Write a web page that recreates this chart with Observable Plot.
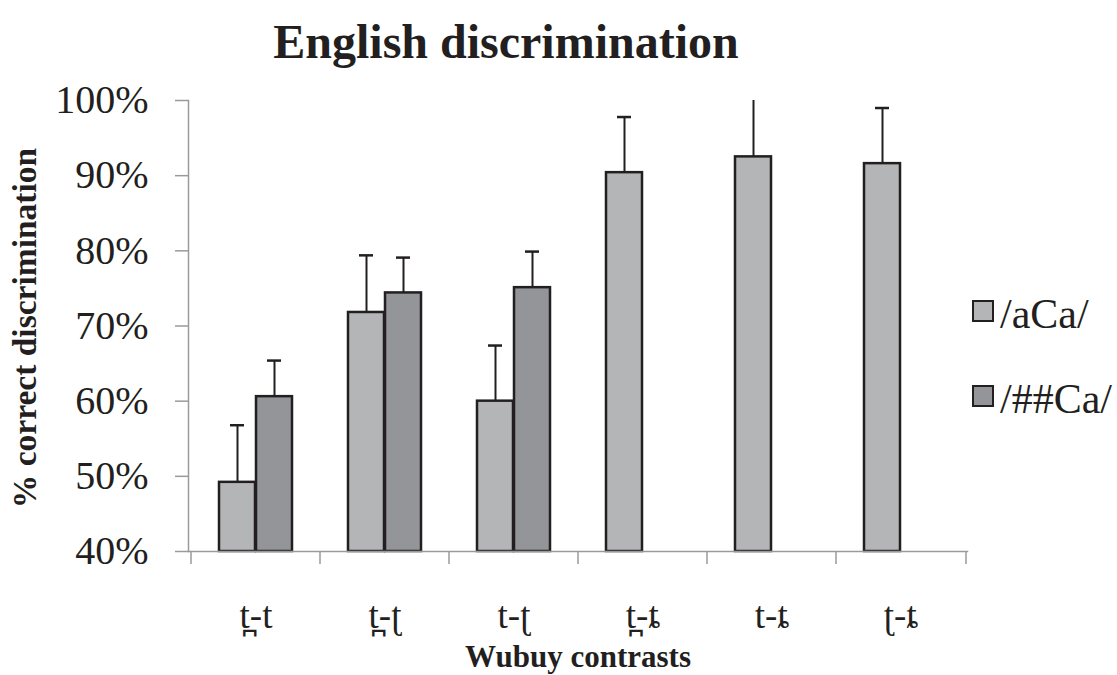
<!DOCTYPE html>
<html>
<head>
<meta charset="utf-8">
<script src="https://cdn.jsdelivr.net/npm/d3@7"></script>
<script src="https://cdn.jsdelivr.net/npm/@observablehq/plot@0.6"></script>
<style>
  html, body { margin: 0; padding: 0; background: #fff; }
  #wrap { position: relative; width: 1117px; height: 675px; font-family: "Liberation Serif", "DejaVu Serif", serif; }
  .leg { position: absolute; font-size: 42px; line-height: 42px; color: #231f20; white-space: nowrap; }
  .sw { position: absolute; width: 18px; height: 18px; border: 2px solid #231f20; }
</style>
</head>
<body>
<div id="wrap"></div>
<script>
const categories = ["t\u032A-t", "t\u032A-\u0288", "t-\u0288", "t\u032A-\u0236", "t-\u0236", "\u0288-\u0236"];
const seriesNames = ["/aCa/", "/##Ca/"];
const aCaMean = [49.2, 71.8, 60.0, 90.4, 92.5, 91.6];
const aCaUpper = [56.8, 79.4, 67.4, 97.8, 100.8, 99.0];
const hashCaMean = [60.6, 74.4, 75.1, null, null, null];
const hashCaUpper = [65.4, 79.1, 79.9, null, null, null];
const yTicks = [40, 50, 60, 70, 80, 90, 100];
const seriesColors = ["#b4b5b7", "#939598"];

const rowsA = categories.map((c, i) => ({cat: c, v: aCaMean[i], hi: aCaUpper[i]}));
const rowsB = categories.map((c, i) => ({cat: c, v: hashCaMean[i], hi: hashCaUpper[i]})).filter(d => d.v != null);

const ink = "#231f20";
const axisGrey = "#9a9a9a";
const serif = "Liberation Serif, DejaVu Serif, serif";

const chart = Plot.plot({
  width: 1117,
  height: 675,
  marginLeft: 188,
  marginRight: 150,
  marginTop: 100,
  marginBottom: 124,
  style: {fontFamily: serif, background: "#fff"},
  x: {type: "band", domain: categories, padding: 0},
  y: {domain: [40, 100]},
  marks: [
    Plot.barY(rowsA, {x: "cat", y1: 40, y2: "v", fill: seriesColors[0], stroke: ink, strokeWidth: 2.5, insetLeft: 28, insetRight: 65}),
    Plot.barY(rowsB, {x: "cat", y1: 40, y2: "v", fill: seriesColors[1], stroke: ink, strokeWidth: 2.5, insetLeft: 65, insetRight: 28}),
    Plot.ruleX(rowsA, {x: "cat", y1: "v", y2: "hi", dx: -18.5, stroke: ink, strokeWidth: 2, clip: true}),
    Plot.ruleX(rowsB, {x: "cat", y1: "v", y2: "hi", dx: 18.5, stroke: ink, strokeWidth: 2, clip: true}),
    Plot.tickY(rowsA, {x: "cat", y: "hi", insetLeft: 39, insetRight: 76, stroke: ink, strokeWidth: 2.5, clip: true}),
    Plot.tickY(rowsB, {x: "cat", y: "hi", insetLeft: 76, insetRight: 39, stroke: ink, strokeWidth: 2.5, clip: true}),
    Plot.frame({anchor: "left", stroke: axisGrey, strokeWidth: 1.5}),
    Plot.frame({anchor: "bottom", stroke: axisGrey, strokeWidth: 1.5}),
    Plot.axisY(yTicks, {tickSize: 13, tickPadding: 27, tickFormat: d => d + "%", fontSize: 40, stroke: axisGrey, strokeWidth: 1.5, fill: ink, label: null}),
    Plot.axisX(categories, {tickSize: 13, text: null, dx: -65, stroke: axisGrey, strokeWidth: 1.5, label: null}),
    Plot.axisX([categories[categories.length - 1]], {tickSize: 13, text: null, dx: 65, stroke: axisGrey, strokeWidth: 1.5, label: null}),
    Plot.axisX(categories, {tickSize: 0, tickPadding: 50, fontSize: 37, fill: ink, label: null}),
    Plot.text(["Wubuy contrasts"], {frameAnchor: "bottom", dy: 106, fontSize: 31, fontWeight: "bold", fill: ink, lineAnchor: "middle"}),
    Plot.text(["% correct discrimination"], {frameAnchor: "left", dx: -163, dy: 2, rotate: -90, textAnchor: "middle", fontSize: 33.5, fontWeight: "bold", fill: ink}),
    Plot.text(["English discrimination"], {frameAnchor: "top", dx: -72, dy: -58, fontSize: 48, fontWeight: "bold", fill: ink, lineAnchor: "middle"})
  ]
});

const wrap = document.getElementById("wrap");
wrap.appendChild(chart);

const legendTops = [300, 385];
seriesNames.forEach((name, i) => {
  const sw = document.createElement("div");
  sw.className = "sw";
  sw.style.left = "972px";
  sw.style.top = legendTops[i] + "px";
  sw.style.background = seriesColors[i];
  wrap.appendChild(sw);
  const lab = document.createElement("div");
  lab.className = "leg";
  lab.style.left = "1000px";
  lab.style.top = (legendTops[i] - 7) + "px";
  lab.textContent = name;
  wrap.appendChild(lab);
});
</script>
</body>
</html>
